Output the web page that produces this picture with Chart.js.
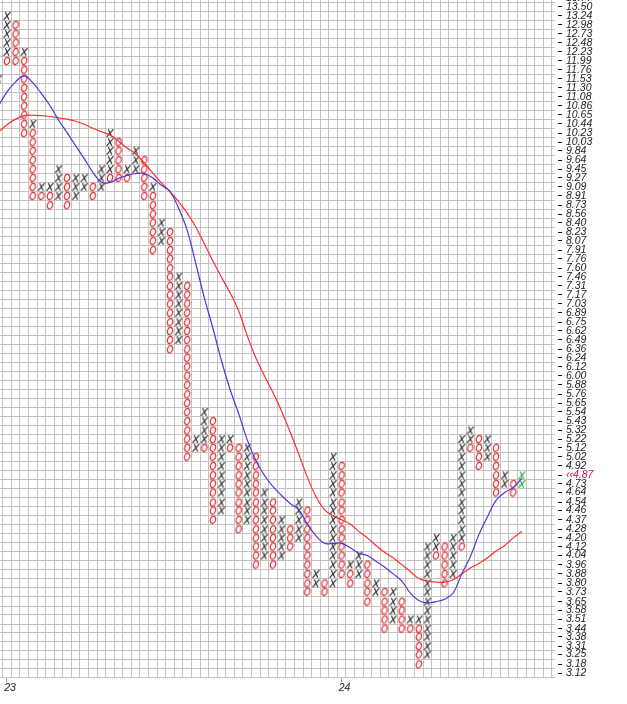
<!DOCTYPE html>
<html>
<head>
<meta charset="utf-8">
<script src="https://cdn.jsdelivr.net/npm/chart.js@4.4.1/dist/chart.umd.min.js"></script>
<style>
  html, body { margin: 0; padding: 0; background: #fff; }
  canvas { display: block; }
</style>
</head>
<body>
<canvas id="pf" width="627" height="704"></canvas>
<script>
// ── Box levels (right axis labels, top to bottom) ─────────
const priceLabels = [
  '13.77', '13.50', '13.24', '12.98', '12.73', '12.48', '12.23', '11.99', '11.76', '11.53',
  '11.30', '11.08', '10.86', '10.65', '10.44', '10.23', '10.03', '9.84', '9.64', '9.45',
  '9.27', '9.09', '8.91', '8.73', '8.56', '8.40', '8.23', '8.07', '7.91', '7.76',
  '7.60', '7.46', '7.31', '7.17', '7.03', '6.89', '6.75', '6.62', '6.49', '6.36',
  '6.24', '6.12', '6.00', '5.88', '5.76', '5.65', '5.54', '5.43', '5.32', '5.22',
  '5.12', '5.02', '4.92', '4.82', '4.73', '4.64', '4.54', '4.46', '4.37', '4.28',
  '4.20', '4.12', '4.04', '3.96', '3.88', '3.80', '3.73', '3.65', '3.58', '3.51',
  '3.44', '3.38', '3.31', '3.25', '3.18', '3.12',
];
const lastPrice = '4.87';
const lastPriceBox = '4.82';

// ── Year ticks on the column axis ─────────────────────────
const yearLabels = ['23', '24'];
const yearColumns = [0, 39];

// ── Box runs: [column, top box, bottom box] ───────────────
const xRuns = [
  [-1, '12.23', '11.53'], [0, '13.24', '12.23'], [2, '12.23', '12.23'], [3, '10.44', '10.44'],
  [4, '9.09', '9.09'], [5, '9.09', '9.09'], [6, '9.45', '8.91'], [8, '9.27', '8.91'],
  [9, '9.27', '9.09'], [11, '9.45', '9.09'], [12, '10.23', '9.45'], [14, '9.45', '9.45'],
  [15, '9.84', '9.45'], [17, '9.09', '9.09'], [18, '8.40', '8.07'], [20, '7.46', '6.49'],
  [22, '5.22', '5.12'], [23, '5.54', '5.22'], [25, '5.22', '4.46'], [26, '5.22', '5.22'],
  [28, '5.12', '4.37'], [30, '4.64', '4.04'], [32, '4.37', '4.04'], [34, '4.54', '4.20'],
  [36, '3.88', '3.80'], [38, '5.02', '3.80'], [40, '3.96', '3.96'], [41, '4.04', '3.88'],
  [43, '3.80', '3.73'], [45, '3.73', '3.51'], [47, '3.51', '3.51'], [48, '3.51', '3.51'],
  [49, '4.12', '3.25'], [50, '4.20', '4.12'], [52, '4.20', '3.88'], [53, '5.22', '4.20'],
  [54, '5.32', '5.22'], [56, '5.22', '5.02'], [58, '4.82', '4.73'],
];
const oRuns = [
  [0, '11.99', '11.99'], [1, '12.98', '11.99'], [2, '11.99', '10.23'], [3, '10.23', '8.91'],
  [4, '8.91', '8.91'], [5, '8.91', '8.73'], [7, '9.27', '8.73'], [10, '9.09', '8.91'],
  [12, '9.27', '9.27'], [13, '10.03', '9.27'], [14, '9.27', '9.27'], [16, '9.64', '8.91'],
  [17, '8.91', '7.91'], [19, '8.23', '6.36'], [21, '7.31', '5.02'], [23, '5.12', '5.12'],
  [24, '5.43', '4.37'], [26, '5.12', '5.12'], [27, '5.12', '4.28'], [29, '5.02', '3.96'],
  [31, '4.54', '3.96'], [33, '4.28', '4.12'], [35, '4.46', '3.73'], [37, '3.80', '3.73'],
  [39, '4.92', '3.88'], [40, '3.88', '3.80'], [42, '3.96', '3.65'], [44, '3.73', '3.44'],
  [46, '3.65', '3.44'], [47, '3.44', '3.44'], [48, '3.44', '3.18'], [50, '4.04', '4.04'],
  [51, '4.12', '3.80'], [53, '4.12', '4.12'], [54, '5.12', '5.12'], [55, '5.22', '4.92'],
  [57, '5.12', '4.64'], [59, '4.73', '4.64'],
];
// column still forming
const liveRuns = [[60, '4.82', '4.73']];

// ── Moving averages, one value per column from column -1 ──
const maFirstColumn = -1;
const maFast = [
  10.86, 11.20, 11.45, 11.60, 11.43, 11.16, 10.87, 10.53, 10.24, 9.95,
  9.67, 9.39, 9.18, 9.18, 9.26, 9.32, 9.36, 9.36, 9.27, 9.12,
  9.00, 8.67, 8.26, 7.68, 7.12, 6.66, 6.20, 5.82, 5.52, 5.21,
  4.98, 4.82, 4.70, 4.61, 4.53, 4.47, 4.33, 4.22, 4.15, 4.15,
  4.15, 4.11, 4.06, 4.04, 3.99, 3.94, 3.88, 3.82, 3.72, 3.66,
  3.64, 3.65, 3.67, 3.72, 3.88, 4.03, 4.23, 4.40, 4.56, 4.64,
  4.69, 4.79,
];
const maSlow = [
  10.25, 10.42, 10.55, 10.63, 10.64, 10.63, 10.61, 10.58, 10.55, 10.50,
  10.43, 10.34, 10.26, 10.19, 10.05, 9.90, 9.77, 9.58, 9.37, 9.17,
  8.99, 8.80, 8.58, 8.32, 8.02, 7.72, 7.45, 7.20, 6.92, 6.55,
  6.24, 6.00, 5.78, 5.55, 5.30, 5.05, 4.80, 4.60, 4.47, 4.41,
  4.37, 4.33, 4.26, 4.20, 4.13, 4.07, 4.02, 3.96, 3.90, 3.84,
  3.82, 3.81, 3.81, 3.83, 3.88, 3.93, 3.97, 4.02, 4.08, 4.13,
  4.20, 4.26,
];

// ── Geometry of the grid (pixels) ─────────────────────────
const AREA_W = 555, AREA_H = 678;
const COL0_PX = 7.0, COL_W = 8.58;
const TOP_LABEL_PX = 7, BOTTOM_LABEL_PX = 673;

const levels = priceLabels.map(Number);
const hiBox = levels[1], loBox = levels[levels.length - 1];
const logPerPx = Math.log(hiBox / loBox) / (BOTTOM_LABEL_PX - TOP_LABEL_PX);
const yMax = hiBox * Math.exp(TOP_LABEL_PX * logPerPx);
const yMin = loBox * Math.exp(-(AREA_H - BOTTOM_LABEL_PX) * logPerPx);
const xMin = -COL0_PX / COL_W;
const xMax = (AREA_W - COL0_PX) / COL_W;

// grid lines sit half-way (geometrically) between boxes
const rowEdges = [];
for (let i = 0; i < levels.length - 1; i++) rowEdges.push(Math.sqrt(levels[i] * levels[i + 1]));
const lastStep = levels[levels.length - 2] / loBox;
rowEdges.push(loBox / Math.sqrt(lastStep));
const colEdges = [];
for (let j = -1; j <= 63; j++) colEdges.push(j + 0.5);

function boxes(runs) {
  const pts = [];
  runs.forEach(([col, top, bottom]) => {
    const a = priceLabels.indexOf(top);
    const b = priceLabels.indexOf(bottom);
    if (a < 0 || b < 0) { console.warn('bad box', col, top, bottom); return; }
    for (let i = a; i <= b; i++) pts.push({ x: col, y: levels[i] });
  });
  return pts;
}

// ── Glyphs ────────────────────────────────────────────────
function glyphX(color) {
  const c = document.createElement('canvas');
  c.width = 10; c.height = 10;
  const g = c.getContext('2d');
  g.strokeStyle = color;
  g.lineWidth = 1.15;
  g.beginPath();
  g.moveTo(3.3, 1.2); g.lineTo(6.9, 8.8);
  g.moveTo(8.5, 1.2); g.lineTo(1.6, 8.8);
  g.stroke();
  return c;
}
function glyphO(color) {
  const c = document.createElement('canvas');
  c.width = 10; c.height = 10;
  const g = c.getContext('2d');
  g.strokeStyle = color;
  g.lineWidth = 1.15;
  g.beginPath();
  g.ellipse(5, 5, 2.6, 3.6, 0.35, 0, Math.PI * 2);
  g.stroke();
  return c;
}

const font = { family: "'Liberation Sans', Arial, sans-serif", size: 10.5, style: 'italic' };

function markSet(data, img) {
  return {
    data, pointStyle: img, pointRadius: 4.5, borderWidth: 0, showLine: false,
  };
}
function lineSet(values, color) {
  return {
    data: values.map((v, i) => ({ x: maFirstColumn + i, y: v })),
    showLine: true, borderColor: color, borderWidth: 1.2, pointRadius: 0,
    tension: 0.4, fill: false,
  };
}

// labels at the ends must not push the plot inwards
function noEdgePadding(s) {
  s.paddingTop = 0; s.paddingBottom = 0; s.paddingLeft = 0; s.paddingRight = 0;
}

new Chart(document.getElementById('pf'), {
  type: 'scatter',
  data: {
    datasets: [
      lineSet(maFast, '#5531e0'),
      lineSet(maSlow, '#ff2b2b'),
      markSet(boxes(xRuns), glyphX('#2e2e2e')),
      markSet(boxes(oRuns), glyphO('#e0262a')),
      markSet(boxes(liveRuns), glyphX('#22b022')),
    ],
  },
  options: {
    responsive: false,
    devicePixelRatio: 1,
    animation: false,
    events: [],
    layout: { padding: 0, autoPadding: false },
    plugins: { legend: { display: false }, tooltip: { enabled: false } },
    scales: {
      x: {
        type: 'linear', position: 'bottom', min: xMin, max: xMax,
        afterBuildTicks: (s) => { s.ticks = yearColumns.map((v) => ({ value: v })); },
        afterFit: (s) => { s.height = 704 - AREA_H; noEdgePadding(s); },
        ticks: {
          autoSkip: false, maxRotation: 0, padding: 0, labelOffset: 3,
          color: '#222', font,
          callback: (v) => yearLabels[yearColumns.indexOf(v)] ?? '',
        },
        grid: { drawOnChartArea: false, drawTicks: true, tickLength: 4, tickColor: '#999' },
        border: { display: false },
      },
      y: {
        type: 'logarithmic', position: 'right', min: yMin, max: yMax,
        afterBuildTicks: (s) => { s.ticks = levels.map((v) => ({ value: v })); },
        afterFit: (s) => { s.width = 627 - AREA_W; noEdgePadding(s); },
        ticks: {
          autoSkip: false, padding: 4, font,
          color: (ctx) => (ctx.tick && ctx.tick.value === Number(lastPriceBox) ? '#c8184a' : '#222'),
          callback: (v, i) => (priceLabels[i] === lastPriceBox ? '\u2039\u2039' + lastPrice : priceLabels[i]),
        },
        grid: {
          drawOnChartArea: false, drawTicks: true, tickLength: 7, tickColor: '#111',
          tickBorderDash: [0, 3, 4, 20],
        },
        border: { display: false },
      },
      xg: {
        type: 'linear', position: 'top', min: xMin, max: xMax,
        afterBuildTicks: (s) => { s.ticks = colEdges.map((v) => ({ value: v })); },
        afterFit: (s) => { s.height = 0; noEdgePadding(s); },
        ticks: { display: false, autoSkip: false },
        grid: { color: '#c4c4c4', lineWidth: 1, drawTicks: false },
        border: { display: false },
      },
      yg: {
        type: 'logarithmic', position: 'left', min: yMin, max: yMax,
        afterBuildTicks: (s) => { s.ticks = rowEdges.map((v) => ({ value: v })); },
        afterFit: (s) => { s.width = 0; noEdgePadding(s); },
        ticks: { display: false, autoSkip: false },
        grid: { color: '#c4c4c4', lineWidth: 1, drawTicks: false },
        border: { display: false },
      },
    },
  },
});
</script>
</body>
</html>
